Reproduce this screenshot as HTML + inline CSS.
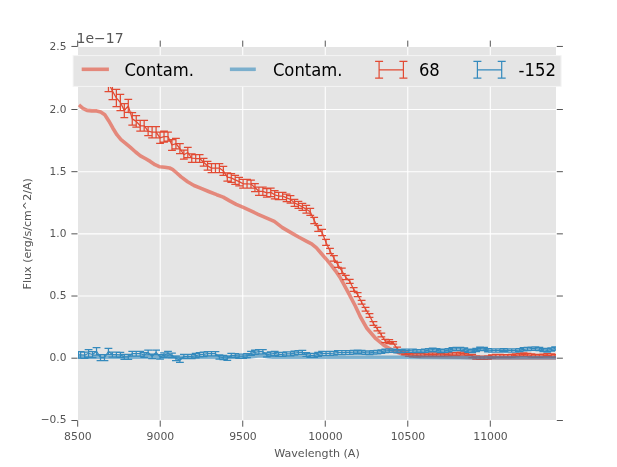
<!DOCTYPE html>
<html><head><meta charset="utf-8"><title>Flux plot</title>
<style>html,body{margin:0;padding:0;background:#fff}svg{display:block}</style></head>
<body>
<svg width="617" height="467" viewBox="0 0 617 467" font-family="'DejaVu Sans','Liberation Sans',sans-serif">
<rect width="617" height="467" fill="#fff"/>
<rect x="78" y="47" width="478" height="373" fill="#E5E5E5"/>
<path d="M160.22 47V420M242.74 47V420M325.26 47V420M407.78 47V420M490.30 47V420M78 358.20H556M78 296.02H556M78 233.85H556M78 171.68H556M78 109.50H556" stroke="#fff" stroke-width="1.1" fill="none"/>
<path d="M77.70 420.6v6.1M77.70 46.7v-6.1M160.22 420.6v6.1M160.22 46.7v-6.1M242.74 420.6v6.1M242.74 46.7v-6.1M325.26 420.6v6.1M325.26 46.7v-6.1M407.78 420.6v6.1M407.78 46.7v-6.1M490.30 420.6v6.1M490.30 46.7v-6.1M77.5 420.50h-6.1M556.8 420.50h6.1M77.5 358.20h-6.1M556.8 358.20h6.1M77.5 296.02h-6.1M556.8 296.02h6.1M77.5 233.85h-6.1M556.8 233.85h6.1M77.5 171.68h-6.1M556.8 171.68h6.1M77.5 109.50h-6.1M556.8 109.50h6.1M77.5 46.45h-6.1M556.8 46.45h6.1" stroke="#555" stroke-width="1" fill="none"/>
<clipPath id="c"><rect x="78" y="47" width="478" height="373"/></clipPath>
<g clip-path="url(#c)">
<polyline points="108.44,83.00 112.41,91.00 116.38,98.00 120.35,102.40 124.32,110.50 128.29,105.90 132.26,118.90 136.23,121.35 140.20,125.75 144.17,125.75 148.14,131.05 152.11,132.20 156.08,132.20 160.05,137.80 164.02,136.60 167.99,136.60 171.96,145.00 175.93,143.60 179.90,148.50 183.85,154.70 187.80,152.50 191.75,158.10 195.70,158.50 199.65,158.50 203.60,162.30 207.55,165.70 211.50,168.10 215.45,168.10 219.40,168.10 223.35,170.90 227.30,177.05 231.25,177.90 235.20,179.90 239.15,181.60 243.10,183.80 247.05,183.75 251.00,184.10 254.95,187.50 258.90,191.30 262.85,191.30 266.80,192.90 270.75,192.40 274.70,194.80 278.65,196.00 282.60,196.00 286.55,197.90 290.50,199.40 294.45,202.90 298.40,204.80 302.35,206.90 306.30,209.30 310.25,211.80 314.20,220.40 318.15,228.40 322.10,232.40 326.05,242.40 330.00,251.00 333.95,258.30 337.90,264.90 341.85,270.80 345.80,277.50 349.75,281.30 353.70,289.40 357.65,294.60 361.60,302.30 365.55,309.20 369.50,315.40 373.45,323.50 377.40,329.10 381.35,335.00 385.30,340.90 389.25,341.70 393.20,342.90 397.15,348.50 401.10,351.70 405.05,353.20 409.00,354.70 412.95,355.20 416.90,355.50 420.85,355.00 424.80,354.70 428.75,354.70 432.70,354.50 436.65,354.70 440.60,354.90 444.55,354.60 448.50,354.30 452.45,354.05 456.40,354.05 460.35,353.60 464.30,353.40 468.25,353.80 472.20,356.00 476.15,357.50 480.10,357.75 484.05,357.75 488.00,357.50 491.95,356.50 495.90,356.00 499.85,356.00 503.80,356.10 507.75,356.10 511.70,355.80 515.65,355.30 519.60,354.80 523.55,354.30 527.50,354.80 531.45,355.50 535.40,355.80 539.35,355.80 543.30,355.60 547.25,355.10 551.20,355.50 555.15,355.80" fill="none" stroke="#E24A33" stroke-width="1.25" stroke-linejoin="round"/>
<path d="M108.44 74.50V91.50M104.54 74.50H112.34M104.54 91.50H112.34M112.41 82.40V99.60M108.51 82.40H116.31M108.51 99.60H116.31M116.38 89.40V106.60M112.48 89.40H120.28M112.48 106.60H120.28M120.35 94.30V110.50M116.45 94.30H124.25M116.45 110.50H124.25M124.32 103.50V117.50M120.42 103.50H128.22M120.42 117.50H128.22M128.29 99.40V112.40M124.39 99.40H132.19M124.39 112.40H132.19M132.26 112.60V125.20M128.36 112.60H136.16M128.36 125.20H136.16M136.23 115.50V127.20M132.33 115.50H140.13M132.33 127.20H140.13M140.20 120.30V131.20M136.30 120.30H144.10M136.30 131.20H144.10M144.17 120.30V131.20M140.27 120.30H148.07M140.27 131.20H148.07M148.14 126.60V135.50M144.24 126.60H152.04M144.24 135.50H152.04M152.11 126.60V137.80M148.21 126.60H156.01M148.21 137.80H156.01M156.08 126.60V137.80M152.18 126.60H159.98M152.18 137.80H159.98M160.05 132.20V143.40M156.15 132.20H163.95M156.15 143.40H163.95M164.02 131.20V142.00M160.12 131.20H167.92M160.12 142.00H167.92M167.99 132.00V141.20M164.09 132.00H171.89M164.09 141.20H171.89M171.96 139.60V150.40M168.06 139.60H175.86M168.06 150.40H175.86M175.93 138.40V148.80M172.03 138.40H179.83M172.03 148.80H179.83M179.90 143.50V153.50M176.00 143.50H183.80M176.00 153.50H183.80M183.85 150.20V159.20M179.95 150.20H187.75M179.95 159.20H187.75M187.80 147.40V157.60M183.90 147.40H191.70M183.90 157.60H191.70M191.75 153.80V162.40M187.85 153.80H195.65M187.85 162.40H195.65M195.70 154.60V162.40M191.80 154.60H199.60M191.80 162.40H199.60M199.65 154.60V162.40M195.75 154.60H203.55M195.75 162.40H203.55M203.60 158.40V166.20M199.70 158.40H207.50M199.70 166.20H207.50M207.55 161.40V170.00M203.65 161.40H211.45M203.65 170.00H211.45M211.50 163.70V172.50M207.60 163.70H215.40M207.60 172.50H215.40M215.45 163.70V172.50M211.55 163.70H219.35M211.55 172.50H219.35M219.40 163.70V172.50M215.50 163.70H223.30M215.50 172.50H223.30M223.35 166.40V175.40M219.45 166.40H227.25M219.45 175.40H227.25M227.30 172.90V181.20M223.40 172.90H231.20M223.40 181.20H231.20M231.25 173.50V182.30M227.35 173.50H235.15M227.35 182.30H235.15M235.20 175.40V184.40M231.30 175.40H239.10M231.30 184.40H239.10M239.15 177.30V185.90M235.25 177.30H243.05M235.25 185.90H243.05M243.10 179.40V188.20M239.20 179.40H247.00M239.20 188.20H247.00M247.05 179.30V188.20M243.15 179.30H250.95M243.15 188.20H250.95M251.00 180.20V188.00M247.10 180.20H254.90M247.10 188.00H254.90M254.95 183.50V191.50M251.05 183.50H258.85M251.05 191.50H258.85M258.90 187.20V195.40M255.00 187.20H262.80M255.00 195.40H262.80M262.85 187.20V195.40M258.95 187.20H266.75M258.95 195.40H266.75M266.80 188.70V197.10M262.90 188.70H270.70M262.90 197.10H270.70M270.75 188.20V196.60M266.85 188.20H274.65M266.85 196.60H274.65M274.70 190.70V198.90M270.80 190.70H278.60M270.80 198.90H278.60M278.65 192.40V199.60M274.75 192.40H282.55M274.75 199.60H282.55M282.60 192.40V199.60M278.70 192.40H286.50M278.70 199.60H286.50M286.55 194.20V201.60M282.65 194.20H290.45M282.65 201.60H290.45M290.50 195.60V203.20M286.60 195.60H294.40M286.60 203.20H294.40M294.45 199.40V206.40M290.55 199.40H298.35M290.55 206.40H298.35M298.40 201.30V208.30M294.50 201.30H302.30M294.50 208.30H302.30M302.35 203.40V210.40M298.45 203.40H306.25M298.45 210.40H306.25M306.30 205.40V213.20M302.40 205.40H310.20M302.40 213.20H310.20M310.25 208.30V215.30M306.35 208.30H314.15M306.35 215.30H314.15M314.20 217.30V223.50M310.30 217.30H318.10M310.30 223.50H318.10M318.15 225.40V231.40M314.25 225.40H322.05M314.25 231.40H322.05M322.10 229.30V235.50M318.20 229.30H326.00M318.20 235.50H326.00M326.05 239.40V245.40M322.15 239.40H329.95M322.15 245.40H329.95M330.00 248.40V253.60M326.10 248.40H333.90M326.10 253.60H333.90M333.95 255.50V261.10M330.05 255.50H337.85M330.05 261.10H337.85M337.90 262.40V267.40M334.00 262.40H341.80M334.00 267.40H341.80M341.85 268.00V273.60M337.95 268.00H345.75M337.95 273.60H345.75M345.80 275.40V279.60M341.90 275.40H349.70M341.90 279.60H349.70M349.75 279.30V283.30M345.85 279.30H353.65M345.85 283.30H353.65M353.70 287.50V291.30M349.80 287.50H357.60M349.80 291.30H357.60M357.65 292.70V296.50M353.75 292.70H361.55M353.75 296.50H361.55M361.60 300.40V304.20M357.70 300.40H365.50M357.70 304.20H365.50M365.55 307.30V311.10M361.65 307.30H369.45M361.65 311.10H369.45M369.50 313.50V317.30M365.60 313.50H373.40M365.60 317.30H373.40M373.45 321.60V325.40M369.55 321.60H377.35M369.55 325.40H377.35M377.40 327.30V330.90M373.50 327.30H381.30M373.50 330.90H381.30M381.35 333.20V336.80M377.45 333.20H385.25M377.45 336.80H385.25M385.30 339.30V342.50M381.40 339.30H389.20M381.40 342.50H389.20M389.25 339.70V343.70M385.35 339.70H393.15M385.35 343.70H393.15M393.20 341.70V344.10M389.30 341.70H397.10M389.30 344.10H397.10M397.15 347.20V349.80M393.25 347.20H401.05M393.25 349.80H401.05M401.10 350.40V353.00M397.20 350.40H405.00M397.20 353.00H405.00M405.05 351.90V354.50M401.15 351.90H408.95M401.15 354.50H408.95M409.00 353.15V356.25M405.10 353.15H412.90M405.10 356.25H412.90M412.95 353.65V356.75M409.05 353.65H416.85M409.05 356.75H416.85M416.90 353.95V357.05M413.00 353.95H420.80M413.00 357.05H420.80M420.85 353.45V356.55M416.95 353.45H424.75M416.95 356.55H424.75M424.80 353.15V356.25M420.90 353.15H428.70M420.90 356.25H428.70M428.75 353.15V356.25M424.85 353.15H432.65M424.85 356.25H432.65M432.70 352.95V356.05M428.80 352.95H436.60M428.80 356.05H436.60M436.65 353.15V356.25M432.75 353.15H440.55M432.75 356.25H440.55M440.60 353.35V356.45M436.70 353.35H444.50M436.70 356.45H444.50M444.55 353.05V356.15M440.65 353.05H448.45M440.65 356.15H448.45M448.50 352.75V355.85M444.60 352.75H452.40M444.60 355.85H452.40M452.45 352.50V355.60M448.55 352.50H456.35M448.55 355.60H456.35M456.40 352.50V355.60M452.50 352.50H460.30M452.50 355.60H460.30M460.35 352.05V355.15M456.45 352.05H464.25M456.45 355.15H464.25M464.30 351.85V354.95M460.40 351.85H468.20M460.40 354.95H468.20M468.25 352.25V355.35M464.35 352.25H472.15M464.35 355.35H472.15M472.20 354.45V357.55M468.30 354.45H476.10M468.30 357.55H476.10M476.15 355.95V359.05M472.25 355.95H480.05M472.25 359.05H480.05M480.10 356.20V359.30M476.20 356.20H484.00M476.20 359.30H484.00M484.05 356.20V359.30M480.15 356.20H487.95M480.15 359.30H487.95M488.00 355.95V359.05M484.10 355.95H491.90M484.10 359.05H491.90M491.95 354.95V358.05M488.05 354.95H495.85M488.05 358.05H495.85M495.90 354.45V357.55M492.00 354.45H499.80M492.00 357.55H499.80M499.85 354.45V357.55M495.95 354.45H503.75M495.95 357.55H503.75M503.80 354.55V357.65M499.90 354.55H507.70M499.90 357.65H507.70M507.75 354.55V357.65M503.85 354.55H511.65M503.85 357.65H511.65M511.70 354.25V357.35M507.80 354.25H515.60M507.80 357.35H515.60M515.65 353.75V356.85M511.75 353.75H519.55M511.75 356.85H519.55M519.60 353.25V356.35M515.70 353.25H523.50M515.70 356.35H523.50M523.55 352.75V355.85M519.65 352.75H527.45M519.65 355.85H527.45M527.50 353.25V356.35M523.60 353.25H531.40M523.60 356.35H531.40M531.45 353.95V357.05M527.55 353.95H535.35M527.55 357.05H535.35M535.40 354.25V357.35M531.50 354.25H539.30M531.50 357.35H539.30M539.35 354.25V357.35M535.45 354.25H543.25M535.45 357.35H543.25M543.30 354.05V357.15M539.40 354.05H547.20M539.40 357.15H547.20M547.25 353.55V356.65M543.35 353.55H551.15M543.35 356.65H551.15M551.20 353.95V357.05M547.30 353.95H555.10M547.30 357.05H555.10M555.15 354.25V357.35M551.25 354.25H559.05M551.25 357.35H559.05" fill="none" stroke="#E24A33" stroke-width="1.25"/>
<polyline points="79.00,104.90 79.70,105.50 82.90,108.30 87.00,110.40 91.80,110.90 96.70,110.90 100.70,112.00 104.80,114.80 108.80,120.90 112.90,128.20 116.90,134.70 121.00,139.60 125.90,143.60 130.70,147.70 135.60,152.00 140.40,155.80 145.30,158.50 150.20,161.40 155.00,164.70 159.90,166.80 164.80,167.20 169.60,168.00 172.50,169.30 176.20,172.50 181.10,176.90 187.60,181.70 194.00,185.50 200.50,188.20 208.60,191.50 216.70,194.70 223.20,197.10 229.70,200.90 236.20,204.40 242.70,207.20 250.40,210.70 258.10,214.30 266.20,217.80 274.30,221.40 282.40,227.60 290.50,232.40 298.60,237.00 306.70,241.30 311.60,243.80 316.50,247.80 321.30,253.50 326.20,259.20 331.00,264.80 335.90,271.30 340.60,278.30 348.30,292.60 355.30,306.00 360.20,316.50 366.90,328.30 375.90,338.70 383.70,345.20 392.80,350.40 401.90,354.00 411.00,356.00 420.00,356.60 440.00,357.00 460.00,357.30 475.00,357.80 500.00,357.90 556.30,357.90" fill="none" stroke="#E24A33" stroke-opacity="0.6" stroke-width="3.6" stroke-linejoin="round"/>
<polyline points="78.60,354.90 80.65,354.90 84.62,355.20 88.59,353.30 92.56,354.50 96.53,351.25 100.50,357.65 104.47,357.65 108.44,351.50 112.41,354.60 116.38,354.60 120.35,354.80 124.32,356.90 128.29,356.90 132.26,353.70 136.23,353.70 140.20,353.70 144.17,355.00 148.14,352.50 152.11,356.40 156.08,352.50 160.05,356.80 164.02,355.20 167.99,353.70 171.96,355.30 175.93,358.40 179.90,360.20 183.85,356.50 187.80,356.50 191.75,356.50 195.70,355.60 199.65,354.70 203.60,354.40 207.55,353.70 211.50,353.70 215.45,353.70 219.40,356.90 223.35,357.60 227.30,358.20 231.25,355.60 235.20,355.60 239.15,356.20 243.10,356.20 247.05,355.60 251.00,353.40 254.95,352.30 258.90,351.70 262.85,351.70 266.80,354.90 270.75,354.00 274.70,353.30 278.65,354.30 282.60,354.30 286.55,353.90 290.50,353.80 294.45,353.10 298.40,352.70 302.35,352.30 306.30,354.50 310.25,355.40 314.20,355.40 318.15,354.40 322.10,353.40 326.05,353.40 330.00,353.40 333.95,353.20 337.90,352.60 341.85,352.60 345.80,352.40 349.75,352.40 353.70,352.20 357.65,351.90 361.60,352.20 365.55,352.60 369.50,352.80 373.45,352.40 377.40,352.20 381.35,351.70 385.30,350.90 389.25,350.50 393.20,350.70 397.15,351.20 401.10,350.90 405.05,350.65 409.00,350.65 412.95,350.80 416.90,351.10 420.85,351.10 424.80,350.80 428.75,350.20 432.70,349.70 436.65,350.20 440.60,351.10 444.55,350.80 448.50,350.20 452.45,349.20 456.40,348.90 460.35,348.90 464.30,349.50 468.25,350.65 472.20,351.10 476.15,349.90 480.10,348.70 484.05,348.90 488.00,350.20 491.95,350.45 495.90,350.45 499.85,350.45 503.80,350.10 507.75,350.40 511.70,350.40 515.65,350.40 519.60,350.10 523.55,349.30 527.50,349.00 531.45,348.70 535.40,348.50 539.35,349.00 543.30,349.90 547.25,350.40 551.20,349.50 555.15,348.50" fill="none" stroke="#348ABD" stroke-width="1.25" stroke-linejoin="round"/>
<path d="M78.60 351.60V358.20M74.70 351.60H82.50M74.70 358.20H82.50M80.65 351.60V358.20M76.75 351.60H84.55M76.75 358.20H84.55M84.62 352.00V358.40M80.72 352.00H88.52M80.72 358.40H88.52M88.59 349.60V357.00M84.69 349.60H92.49M84.69 357.00H92.49M92.56 351.50V357.50M88.66 351.50H96.46M88.66 357.50H96.46M96.53 347.50V355.00M92.63 347.50H100.43M92.63 355.00H100.43M100.50 354.70V360.60M96.60 354.70H104.40M96.60 360.60H104.40M104.47 354.70V360.60M100.57 354.70H108.37M100.57 360.60H108.37M108.44 348.30V354.70M104.54 348.30H112.34M104.54 354.70H112.34M112.41 352.10V357.10M108.51 352.10H116.31M108.51 357.10H116.31M116.38 352.12V357.08M112.48 352.12H120.28M112.48 357.08H120.28M120.35 352.33V357.27M116.45 352.33H124.25M116.45 357.27H124.25M124.32 354.45V359.35M120.42 354.45H128.22M120.42 359.35H128.22M128.29 354.47V359.33M124.39 354.47H132.19M124.39 359.33H132.19M132.26 351.28V356.12M128.36 351.28H136.16M128.36 356.12H136.16M136.23 351.30V356.10M132.33 351.30H140.13M132.33 356.10H140.13M140.20 351.32V356.08M136.30 351.32H144.10M136.30 356.08H144.10M144.17 352.63V357.37M140.27 352.63H148.07M140.27 357.37H148.07M148.14 350.15V354.85M144.24 350.15H152.04M144.24 354.85H152.04M152.11 354.07V358.73M148.21 354.07H156.01M148.21 358.73H156.01M156.08 350.18V354.82M152.18 350.18H159.98M152.18 354.82H159.98M160.05 354.50V359.10M156.15 354.50H163.95M156.15 359.10H163.95M164.02 352.92V357.48M160.12 352.92H167.92M160.12 357.48H167.92M167.99 351.43V355.97M164.09 351.43H171.89M164.09 355.97H171.89M171.96 353.05V357.55M168.06 353.05H175.86M168.06 357.55H175.86M175.93 356.17V360.63M172.03 356.17H179.83M172.03 360.63H179.83M179.90 357.98V362.42M176.00 357.98H183.80M176.00 362.42H183.80M183.85 354.30V358.70M179.95 354.30H187.75M179.95 358.70H187.75M187.80 354.31V358.69M183.90 354.31H191.70M183.90 358.69H191.70M191.75 354.31V358.69M187.85 354.31H195.65M187.85 358.69H195.65M195.70 353.42V357.78M191.80 353.42H199.60M191.80 357.78H199.60M199.65 352.53V356.87M195.75 352.53H203.55M195.75 356.87H203.55M203.60 352.24V356.56M199.70 352.24H207.50M199.70 356.56H207.50M207.55 351.54V355.86M203.65 351.54H211.45M203.65 355.86H211.45M211.50 351.55V355.85M207.60 351.55H215.40M207.60 355.85H215.40M215.45 351.56V355.84M211.55 351.56H219.35M211.55 355.84H219.35M219.40 354.77V359.03M215.50 354.77H223.30M215.50 359.03H223.30M223.35 355.48V359.72M219.45 355.48H227.25M219.45 359.72H227.25M227.30 356.08V360.32M223.40 356.08H231.20M223.40 360.32H231.20M231.25 353.49V357.71M227.35 353.49H235.15M227.35 357.71H235.15M235.20 353.50V357.70M231.30 353.50H239.10M231.30 357.70H239.10M239.15 354.10V358.30M235.25 354.10H243.05M235.25 358.30H243.05M243.10 354.11V358.29M239.20 354.11H247.00M239.20 358.29H247.00M247.05 353.52V357.68M243.15 353.52H250.95M243.15 357.68H250.95M251.00 351.33V355.47M247.10 351.33H254.90M247.10 355.47H254.90M254.95 350.23V354.37M251.05 350.23H258.85M251.05 354.37H258.85M258.90 349.64V353.76M255.00 349.64H262.80M255.00 353.76H262.80M262.85 349.65V353.75M258.95 349.65H266.75M258.95 353.75H266.75M266.80 352.86V356.94M262.90 352.86H270.70M262.90 356.94H270.70M270.75 351.96V356.04M266.85 351.96H274.65M266.85 356.04H274.65M274.70 351.27V355.33M270.80 351.27H278.60M270.80 355.33H278.60M278.65 352.28V356.32M274.75 352.28H282.55M274.75 356.32H282.55M282.60 352.29V356.31M278.70 352.29H286.50M278.70 356.31H286.50M286.55 351.89V355.91M282.65 351.89H290.45M282.65 355.91H290.45M290.50 351.80V355.80M286.60 351.80H294.40M286.60 355.80H294.40M294.45 351.11V355.09M290.55 351.11H298.35M290.55 355.09H298.35M298.40 350.72V354.68M294.50 350.72H302.30M294.50 354.68H302.30M302.35 350.32V354.28M298.45 350.32H306.25M298.45 354.28H306.25M306.30 352.53V356.47M302.40 352.53H310.20M302.40 356.47H310.20M310.25 353.44V357.36M306.35 353.44H314.15M306.35 357.36H314.15M314.20 353.45V357.35M310.30 353.45H318.10M310.30 357.35H318.10M318.15 352.45V356.35M314.25 352.45H322.05M314.25 356.35H322.05M322.10 351.46V355.34M318.20 351.46H326.00M318.20 355.34H326.00M326.05 351.47V355.33M322.15 351.47H329.95M322.15 355.33H329.95M330.00 351.48V355.32M326.10 351.48H333.90M326.10 355.32H333.90M333.95 351.28V355.12M330.05 351.28H337.85M330.05 355.12H337.85M337.90 350.69V354.51M334.00 350.69H341.80M334.00 354.51H341.80M341.85 350.70V354.50M337.95 350.70H345.75M337.95 354.50H345.75M345.80 350.52V354.28M341.90 350.52H349.70M341.90 354.28H349.70M349.75 350.54V354.26M345.85 350.54H353.65M345.85 354.26H353.65M353.70 350.36V354.04M349.80 350.36H357.60M349.80 354.04H357.60M357.65 350.08V353.72M353.75 350.08H361.55M353.75 353.72H361.55M361.60 350.39V354.01M357.70 350.39H365.50M357.70 354.01H365.50M365.55 350.81V354.39M361.65 350.81H369.45M361.65 354.39H369.45M369.50 351.03V354.57M365.60 351.03H373.40M365.60 354.57H373.40M373.45 350.65V354.15M369.55 350.65H377.35M369.55 354.15H377.35M377.40 350.47V353.93M373.50 350.47H381.30M373.50 353.93H381.30M381.35 349.99V353.41M377.45 349.99H385.25M377.45 353.41H385.25M385.30 349.21V352.59M381.40 349.21H389.20M381.40 352.59H389.20M389.25 348.83V352.17M385.35 348.83H393.15M385.35 352.17H393.15M393.20 349.04V352.36M389.30 349.04H397.10M389.30 352.36H397.10M397.15 349.56V352.84M393.25 349.56H401.05M393.25 352.84H401.05M401.10 349.28V352.52M397.20 349.28H405.00M397.20 352.52H405.00M405.05 349.05V352.25M401.15 349.05H408.95M401.15 352.25H408.95M409.00 349.05V352.25M405.10 349.05H412.90M405.10 352.25H412.90M412.95 349.20V352.40M409.05 349.20H416.85M409.05 352.40H416.85M416.90 349.50V352.70M413.00 349.50H420.80M413.00 352.70H420.80M420.85 349.50V352.70M416.95 349.50H424.75M416.95 352.70H424.75M424.80 349.20V352.40M420.90 349.20H428.70M420.90 352.40H428.70M428.75 348.60V351.80M424.85 348.60H432.65M424.85 351.80H432.65M432.70 348.10V351.30M428.80 348.10H436.60M428.80 351.30H436.60M436.65 348.60V351.80M432.75 348.60H440.55M432.75 351.80H440.55M440.60 349.50V352.70M436.70 349.50H444.50M436.70 352.70H444.50M444.55 349.20V352.40M440.65 349.20H448.45M440.65 352.40H448.45M448.50 348.60V351.80M444.60 348.60H452.40M444.60 351.80H452.40M452.45 347.60V350.80M448.55 347.60H456.35M448.55 350.80H456.35M456.40 347.30V350.50M452.50 347.30H460.30M452.50 350.50H460.30M460.35 347.30V350.50M456.45 347.30H464.25M456.45 350.50H464.25M464.30 347.90V351.10M460.40 347.90H468.20M460.40 351.10H468.20M468.25 349.05V352.25M464.35 349.05H472.15M464.35 352.25H472.15M472.20 349.50V352.70M468.30 349.50H476.10M468.30 352.70H476.10M476.15 348.30V351.50M472.25 348.30H480.05M472.25 351.50H480.05M480.10 347.10V350.30M476.20 347.10H484.00M476.20 350.30H484.00M484.05 347.30V350.50M480.15 347.30H487.95M480.15 350.50H487.95M488.00 348.60V351.80M484.10 348.60H491.90M484.10 351.80H491.90M491.95 348.85V352.05M488.05 348.85H495.85M488.05 352.05H495.85M495.90 348.85V352.05M492.00 348.85H499.80M492.00 352.05H499.80M499.85 348.85V352.05M495.95 348.85H503.75M495.95 352.05H503.75M503.80 348.50V351.70M499.90 348.50H507.70M499.90 351.70H507.70M507.75 348.80V352.00M503.85 348.80H511.65M503.85 352.00H511.65M511.70 348.80V352.00M507.80 348.80H515.60M507.80 352.00H515.60M515.65 348.80V352.00M511.75 348.80H519.55M511.75 352.00H519.55M519.60 348.50V351.70M515.70 348.50H523.50M515.70 351.70H523.50M523.55 347.70V350.90M519.65 347.70H527.45M519.65 350.90H527.45M527.50 347.40V350.60M523.60 347.40H531.40M523.60 350.60H531.40M531.45 347.10V350.30M527.55 347.10H535.35M527.55 350.30H535.35M535.40 346.90V350.10M531.50 346.90H539.30M531.50 350.10H539.30M539.35 347.40V350.60M535.45 347.40H543.25M535.45 350.60H543.25M543.30 348.30V351.50M539.40 348.30H547.20M539.40 351.50H547.20M547.25 348.80V352.00M543.35 348.80H551.15M543.35 352.00H551.15M551.20 347.90V351.10M547.30 347.90H555.10M547.30 351.10H555.10M555.15 346.90V350.10M551.25 346.90H559.05M551.25 350.10H559.05" fill="none" stroke="#348ABD" stroke-width="1.25"/>
<polyline points="77.70,357.20 246.00,357.20 252.00,356.60 258.00,355.90 263.00,355.90 268.00,356.60 273.00,357.20 300.00,357.20 400.00,357.30 470.00,357.60 500.00,357.80 556.30,357.80" fill="none" stroke="#348ABD" stroke-opacity="0.6" stroke-width="3.6" stroke-linejoin="round"/>
</g>
<g fill="#555" font-size="11.1">
<text x="77.90" y="440" text-anchor="middle" font-size="10.85">8500</text>
<text x="160.42" y="440" text-anchor="middle" font-size="10.85">9000</text>
<text x="242.94" y="440" text-anchor="middle" font-size="10.85">9500</text>
<text x="325.46" y="440" text-anchor="middle" font-size="10.85">10000</text>
<text x="407.98" y="440" text-anchor="middle" font-size="10.85">10500</text>
<text x="490.50" y="440" text-anchor="middle" font-size="10.85">11000</text>
<text x="66.4" y="423.48" text-anchor="end" font-size="10.6">−0.5</text>
<text x="66.4" y="361.30" text-anchor="end" font-size="10.6">0.0</text>
<text x="66.4" y="299.12" text-anchor="end" font-size="10.6">0.5</text>
<text x="66.4" y="236.95" text-anchor="end" font-size="10.6">1.0</text>
<text x="66.4" y="174.78" text-anchor="end" font-size="10.6">1.5</text>
<text x="66.4" y="112.60" text-anchor="end" font-size="10.6">2.0</text>
<text x="66.4" y="49.55" text-anchor="end" font-size="10.6">2.5</text>
<text x="317" y="456.8" text-anchor="middle">Wavelength (A)</text>
<text transform="translate(31.2 233.8) rotate(-90)" text-anchor="middle">Flux (erg/s/cm^2/A)</text>
</g>
<text x="76.5" y="43.2" font-size="14" fill="#555">1e−17</text>
<rect x="73.1" y="55.6" width="488" height="30.8" fill="#E5E5E5" stroke="#f4f4f4" stroke-width="1"/>
<path d="M81.7 69.3H108.9" stroke="#E24A33" stroke-opacity="0.6" stroke-width="3.6"/>
<path d="M229.9 69.3H255.8" stroke="#348ABD" stroke-opacity="0.6" stroke-width="3.6"/>
<path d="M379.1 69.8H403.4M379.1 61.4V78.2M375.1 61.4H383.1M375.1 78.2H383.1M403.4 61.4V78.2M399.4 61.4H407.4M399.4 78.2H407.4" stroke="#E24A33" stroke-width="1.2" fill="none"/>
<path d="M477.4 69.8H501.7M477.4 61.4V78.2M473.4 61.4H481.4M473.4 78.2H481.4M501.7 61.4V78.2M497.7 61.4H505.7M497.7 78.2H505.7" stroke="#348ABD" stroke-width="1.2" fill="none"/>
<g font-size="17.3" fill="#000">
<text x="124.4" y="75.9" textLength="69.6" lengthAdjust="spacingAndGlyphs">Contam.</text>
<text x="272.9" y="75.9" textLength="69.6" lengthAdjust="spacingAndGlyphs">Contam.</text>
<text x="418.9" y="75.9" textLength="20.9" lengthAdjust="spacingAndGlyphs">68</text>
<text x="518.6" y="75.9" textLength="37.4" lengthAdjust="spacingAndGlyphs">-152</text>
</g>
</svg>
</body></html>
